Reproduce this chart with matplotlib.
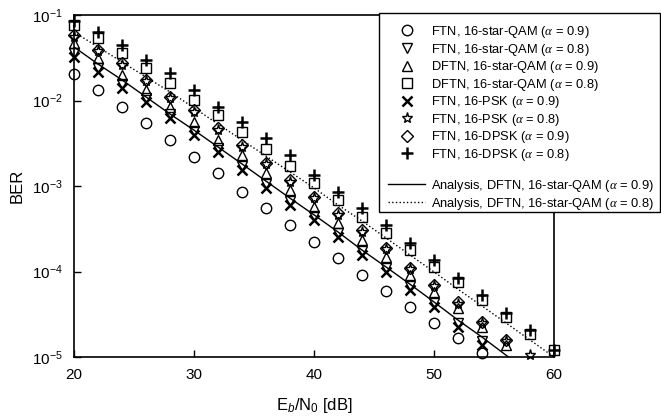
import matplotlib

matplotlib.use("Agg")
import matplotlib.pyplot as plt
from matplotlib.lines import Line2D
from matplotlib.patches import Rectangle
from matplotlib.ticker import LogFormatterSciNotation, NullLocator

plt.rcParams["font.family"] = ["Liberation Sans", "DejaVu Sans"]
plt.rcParams["mathtext.fontset"] = "custom"
plt.rcParams["mathtext.rm"] = "Liberation Sans"
plt.rcParams["mathtext.it"] = "Liberation Serif:italic"
plt.rcParams["mathtext.sf"] = "Liberation Sans:italic"

# Eb/N0 grid [dB]
snr = [20, 22, 24, 26, 28, 30, 32, 34, 36, 38, 40, 42, 44, 46, 48, 50, 52, 54, 56, 58, 60]

# simulated BER
ftn_sqam_09 = [2.04e-2, 1.33e-2, 8.4e-3, 5.45e-3, 3.45e-3, 2.18e-3, 1.42e-3, 8.5e-4, 5.5e-4, 3.5e-4,
               2.21e-4, 1.44e-4, 9.1e-5, 5.9e-5, 3.85e-5, 2.5e-5, 1.67e-5, 1.11e-5]
ftn_sqam_08 = [3.6e-2, 2.4e-2, 1.56e-2, 1.07e-2, 6.95e-3, 4.4e-3, 2.78e-3, 1.71e-3, 1.05e-3, 6.7e-4,
               4.45e-4, 2.8e-4, 1.74e-4, 1.10e-4, 6.8e-5, 4.3e-5, 2.5e-5, 1.54e-5]
dftn_sqam_09 = [4.7e-2, 3.14e-2, 1.99e-2, 1.33e-2, 8.4e-3, 5.6e-3, 3.45e-3, 2.3e-3, 1.42e-3, 9.0e-4,
                5.7e-4, 3.7e-4, 2.33e-4, 1.48e-4, 9.1e-5, 5.75e-5, 3.74e-5, 2.24e-5, 1.38e-5]
dftn_sqam_08 = [7.6e-2, 5.4e-2, 3.6e-2, 2.4e-2, 1.6e-2, 1.01e-2, 6.8e-3, 4.3e-3, 2.7e-3, 1.71e-3,
                1.08e-3, 6.9e-4, 4.3e-4, 2.8e-4, 1.78e-4, 1.13e-4, 7.5e-5, 4.6e-5, 2.9e-5, 1.86e-5, 1.21e-5]
ftn_psk_09 = [3.23e-2, 2.15e-2, 1.4e-2, 9.6e-3, 6.2e-3, 3.95e-3, 2.5e-3, 1.54e-3, 9.5e-4, 6.0e-4,
              4.0e-4, 2.54e-4, 1.56e-4, 9.9e-5, 6.1e-5, 3.85e-5, 2.24e-5, 1.38e-5]
ftn_psk_08 = [5.53e-2, 3.79e-2, 2.6e-2, 1.69e-2, 1.07e-2, 7.3e-3, 4.5e-3, 2.86e-3, 1.81e-3, 1.11e-3,
              7.2e-4, 4.6e-4, 2.9e-4, 1.83e-4, 1.07e-4, 6.8e-5, 4.2e-5, 2.5e-5, 1.54e-5, 1.05e-5]
ftn_dpsk_09 = [5.83e-2, 3.9e-2, 2.75e-2, 1.74e-2, 1.1e-2, 7.7e-3, 4.8e-3, 3.0e-3, 1.86e-3, 1.17e-3,
               7.4e-4, 4.8e-4, 3.05e-4, 1.88e-4, 1.10e-4, 6.95e-5, 4.4e-5, 2.56e-5, 1.58e-5]
ftn_dpsk_08 = [8.6e-2, 6.3e-2, 4.5e-2, 3.0e-2, 2.1e-2, 1.33e-2, 8.4e-3, 5.6e-3, 3.6e-3, 2.3e-3,
               1.35e-3, 8.5e-4, 5.5e-4, 3.5e-4, 2.15e-4, 1.36e-4, 8.4e-5, 5.3e-5, 3.3e-5, 2.07e-5, 1.21e-5]

# analysis curves
ana_09 = [4.23e-2, 2.67e-2, 1.74e-2, 1.1e-2, 6.95e-3, 4.5e-3, 2.86e-3, 1.81e-3, 1.14e-3, 7.2e-4,
          4.6e-4, 2.9e-4, 1.78e-4, 1.13e-4, 7.1e-5, 4.4e-5, 2.7e-5, 1.71e-5, 1.05e-5, 6.7e-6]
ana_08 = [6.32e-2, 4.23e-2, 2.82e-2, 1.88e-2, 1.26e-2, 8.2e-3, 5.3e-3, 3.45e-3, 2.24e-3, 1.46e-3,
          9.5e-4, 6.0e-4, 3.9e-4, 2.47e-4, 1.56e-4, 9.9e-5, 6.2e-5, 3.95e-5, 2.5e-5, 1.58e-5, 1.0e-5]

sim = [
    (ftn_sqam_09, "o", 7.5, r"FTN, 16-star-QAM ($\alpha$ = 0.9)"),
    (ftn_sqam_08, "v", 7.5, r"FTN, 16-star-QAM ($\alpha$ = 0.8)"),
    (dftn_sqam_09, "^", 7.5, r"DFTN, 16-star-QAM ($\alpha$ = 0.9)"),
    (dftn_sqam_08, "s", 7, r"DFTN, 16-star-QAM ($\alpha$ = 0.8)"),
    (ftn_psk_09, "x", 6.5, r"FTN, 16-PSK ($\alpha$ = 0.9)"),
    (ftn_psk_08, "*", 8, r"FTN, 16-PSK ($\alpha$ = 0.8)"),
    (ftn_dpsk_09, "D", 6.5, r"FTN, 16-DPSK ($\alpha$ = 0.9)"),
    (ftn_dpsk_08, "+", 8, r"FTN, 16-DPSK ($\alpha$ = 0.8)"),
]

fig = plt.figure(figsize=(6.61, 4.2), dpi=100)
ax = fig.add_axes([74 / 661, 1 - 357 / 420, 480 / 661, 342 / 420])

handles, labels = [], []
for ber, mk, ms, lab in sim:
    thick = mk in ("x", "+")
    h, = ax.plot(snr[:len(ber)], ber, linestyle="none", marker=mk, ms=ms, mfc="none", mec="black",
                 mew=1.8 if thick else 1.0, clip_on=False, zorder=3)
    handles.append(h)
    labels.append(lab)

h09, = ax.plot(snr[:len(ana_09)], ana_09, "-", color="black", lw=1.0)
h08, = ax.plot(snr[:len(ana_08)], ana_08, ":", color="black", lw=1.0)
handles += [Line2D([], [], linestyle="none"), h09, h08]
labels += [" ", r"Analysis, DFTN, 16-star-QAM ($\alpha$ = 0.9)",
           r"Analysis, DFTN, 16-star-QAM ($\alpha$ = 0.8)"]

ax.set_yscale("log")
ax.set_ylim(1e-5, 1e-1)
ax.set_xlim(20, 60)
ax.set_xticks([20, 30, 40, 50, 60])
ax.yaxis.set_minor_locator(NullLocator())
ax.yaxis.set_major_formatter(LogFormatterSciNotation())
ax.tick_params(direction="in", length=5, width=1, labelsize=11, pad=8)
for sp in ax.spines.values():
    sp.set_linewidth(1.2)

ax.set_xlabel(r"E$_{\mathsf{b}}$/N$_0$ [dB]", fontsize=12, labelpad=10)
ax.set_ylabel("BER", fontsize=12, labelpad=5)

# legend frame drawn separately so it can stick out past the axes like the original
box = Rectangle((379 / 661, 1 - 212 / 420), 281 / 661, 199 / 420, transform=fig.transFigure,
                facecolor="white", edgecolor="black", lw=1.0, zorder=2)
fig.patches.append(box)

leg = fig.legend(handles, labels, loc="upper left", numpoints=1,
                 bbox_to_anchor=(388 / 661, 1 - 24 / 420),
                 borderaxespad=0, borderpad=0, fontsize=9.3, handlelength=2.9, handletextpad=0.45,
                 labelspacing=0.12, frameon=False)
leg.set_zorder(5)

fig.savefig("out.png", dpi=100, facecolor="white")
